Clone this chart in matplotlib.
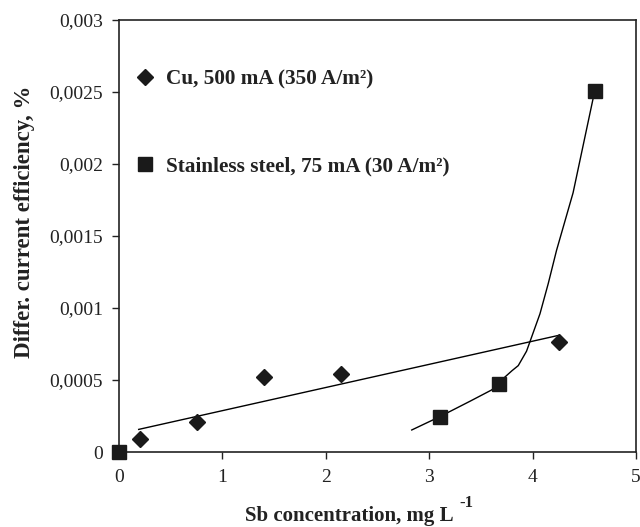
import matplotlib
matplotlib.use("Agg")
import matplotlib.pyplot as plt

# Data
cu_x = [0.2, 0.75, 1.4, 2.15, 4.25]
cu_y = [0.000088, 0.000206, 0.000523, 0.00054, 0.000764]
cu_trend_x = [0.19, 4.25]
cu_trend_y = [0.000157, 0.00081]

ss_x = [0.0, 3.1, 3.67, 4.6]
ss_y = [0.0, 0.000245, 0.00047, 0.00251]
ss_curve_x = [2.83, 3.1, 3.4, 3.6, 3.67, 3.73, 3.8, 3.86, 3.94, 3.99, 4.07, 4.15, 4.23, 4.39, 4.6]
ss_curve_y = [0.000153, 0.000245, 0.000355, 0.00043, 0.00047, 0.00052, 0.000565, 0.0006, 0.0007, 0.0008, 0.00096, 0.00117, 0.0014, 0.0018, 0.00251]

x_ticks = [0, 1, 2, 3, 4, 5]
y_ticks = [0, 0.0005, 0.001, 0.0015, 0.002, 0.0025, 0.003]
y_ticklabels = ["0", "0,0005", "0,001", "0,0015", "0,002", "0,0025", "0,003"]

legend_cu = "Cu, 500 mA (350 A/m²)"
legend_ss = "Stainless steel, 75 mA (30 A/m²)"
xlabel = "Sb concentration, mg L"
xlabel_sup = "-1"
ylabel = "Differ. current efficiency, %"

plt.rcParams['font.family'] = ['Liberation Serif', 'DejaVu Serif']

fig = plt.figure(figsize=(6.4, 5.27), dpi=100)
ax = fig.add_axes([0.186, 0.1423, 0.808, 0.8197])

ax.plot(cu_trend_x, cu_trend_y, color='black', lw=1.0)
ax.plot(ss_curve_x, ss_curve_y, color='black', lw=1.0)
ax.plot(cu_x, cu_y, linestyle='none', marker='D', markersize=8.5, color='#1a1a1a', label=legend_cu, clip_on=False, zorder=5)
ax.plot(ss_x, ss_y, linestyle='none', marker='s', markersize=10, color='#1a1a1a', label=legend_ss, clip_on=False, zorder=5)

ax.set_xlim(0, 5)
ax.set_ylim(0, 0.003)
ax.set_xticks(x_ticks)
ax.set_xticklabels([str(t) for t in x_ticks])
ax.set_yticks(y_ticks)
ax.set_yticklabels(y_ticklabels)
ax.tick_params(direction='out', length=5, width=1.0, labelsize=14, color='#222222', labelcolor='#222222')
ax.tick_params(axis='x', pad=7.5)
ax.tick_params(axis='y', pad=6.5)
for s in ax.spines.values():
    s.set_linewidth(1.2)
    s.set_color('#222222')

ax.set_xlabel(xlabel, fontsize=15, fontweight='bold', color='#222222')
ax.xaxis.set_label_coords(0.445, -0.124)
ax.set_ylabel(ylabel, fontsize=16.5, fontweight='bold', color='#222222')
ax.yaxis.set_label_coords(-0.162, 0.532)
ax.annotate(xlabel_sup, xy=(1, 1), xycoords=ax.xaxis.label, xytext=(4, 2),
            textcoords='offset points', ha='left', va='center',
            fontsize=12, fontweight='bold', color='#222222')

leg = ax.legend(loc='upper left', bbox_to_anchor=(0.0, 0.921), frameon=False,
                prop={'weight': 'bold', 'size': 15.3}, labelspacing=3.16,
                handletextpad=0.47, handlelength=1.04, borderaxespad=0.3)
for t in leg.get_texts():
    t.set_color('#222222')

fig.savefig("out.png", dpi=100)
